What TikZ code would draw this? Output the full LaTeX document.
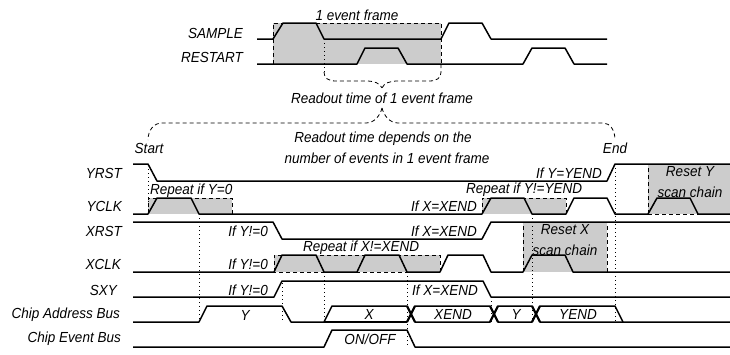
\documentclass[tikz,border=0pt]{standalone}
\usepackage{fontspec}
\setmainfont{Liberation Sans}
\usepackage{xcolor}
\definecolor{frameGray}{HTML}{CCCCCC}
\begin{document}
\begin{tikzpicture}[
    x=1pt, y=-1pt,
    sig/.style={line width=1.5pt, line join=round},
    cross/.style={line width=2.2pt},
    greybox/.style={fill=frameGray, draw=none},
    dashbox/.style={line width=0.8pt, dash pattern=on 4pt off 3pt},
    guide/.style={line width=0.9pt, dash pattern=on 1pt off 3pt},
    txt/.style={font=\fontsize{14.6}{16}\selectfont\itshape, inner sep=0pt, xscale=0.925, transform shape},
    signame/.style={txt, anchor=east},
  ]
    \useasboundingbox (0,0) rectangle (730,354);

    % Grey areas
    \fill[greybox] (273,23) rectangle (441,64);
    \fill[greybox] (148,198) rectangle (232,214);
    \fill[greybox] (482,198) rectangle (566,214);
    \fill[greybox] (648,164) rectangle (730,214);
    \fill[greybox] (274,255) rectangle (440,272);
    \fill[greybox] (523,222) rectangle (607,272);

    % Dashed frames
    \draw[dashbox] (273,64) -- (273,23) -- (441,23) -- (441,64);
    \draw[dashbox] (148,214) -- (148,198) -- (232,198) -- (232,214) -- (199,214);
    \draw[dashbox] (482,214) -- (482,198) -- (566,198) -- (566,214);
    \draw[dashbox] (648,214) -- (648,164);
    \draw[dashbox] (648,214) -- (698,214);
    \draw[dashbox] (274,272) -- (274,255) -- (440,255) -- (440,272) -- (274,272);
    \draw[dashbox] (523,272) -- (523,222);
    \draw[dashbox] (607,272) -- (607,222);

    % Dotted guides
    \draw[guide] (148,165) -- (148,214);
    \draw[guide] (199,214) -- (199,322);
    \draw[guide] (282,283) -- (282,322);
    \draw[guide] (324,272) -- (324,322);
    \draw[guide] (407,272) -- (407,347);
    \draw[guide] (491,297) -- (491,322);
    \draw[guide] (532,214) -- (532,322);
    \draw[guide] (615,164) -- (615,322);

    % Top waves
    \node[signame] (sample) at (243,33) {SAMPLE};
    \node[signame] (restart) at (243,57) {RESTART};
    \draw[sig] (257,39) -- (273,39) -- (283,23) -- (316,23) -- (324,39) -- (441,39) -- (449,23) -- (482,23) -- (491,39) -- (607,39);
    \draw[sig] (257,64) -- (357,64) -- (365,48) -- (398,48) -- (407,64) -- (523,64) -- (532,48) -- (565,48) -- (574,64) -- (607,64);
    \node[txt] (frametxt) at (357,15) {1 event frame};

    % Braces
    \draw[guide] (324,39) -- (324,72);
    \draw[dashbox] (324,72) .. controls (324,78) and (328,81) .. (336,81) -- (366,81) .. controls (374,81) and (380,83) .. (382,88);
    \draw[dashbox] (441,64) -- (441,72) .. controls (441,78) and (437,81) .. (429,81) -- (398,81) .. controls (390,81) and (384,83) .. (382,88);
    \node[txt] (readout) at (382,98) {Readout time of 1 event frame};
    \draw[dashbox] (382,108) .. controls (380,116) and (374,123) .. (366,123) -- (162,123) .. controls (154,123) and (148,130) .. (148,140);
    \draw[dashbox] (382,108) .. controls (384,116) and (390,123) .. (398,123) -- (603,123) .. controls (610,123) and (615,130) .. (615,140);
    \node[txt] (depends) at (383,139) {Readout time depends on the};
    \node[txt] (number) at (387,158) {number of events in 1 event frame};
    \node[txt] (start) at (149,148) {Start};
    \node[txt] (end) at (615,148) {End};

    % Lower waves
    \node[signame] (yrst) at (122,173) {YRST};
    \draw[sig] (133,164) -- (148,164) -- (157,181) -- (607,181) -- (615,164) -- (730,164);
    \node[signame] (yclk) at (122,206) {YCLK};
    \draw[sig] (133,214) -- (148,214) -- (157,198) -- (191,198) -- (199,214) -- (482,214) -- (491,198) -- (524,198) -- (532,214) -- (566,214) -- (574,198) -- (607,198) -- (615,214) -- (648,214) -- (657,198) -- (690,198) -- (698,214) -- (730,214);
    \node[signame] (xrst) at (122,231) {XRST};
    \draw[sig] (133,222) -- (273,222) -- (282,239) -- (482,239) -- (491,222) -- (730,222);
    \node[signame] (xclk) at (121,264) {XCLK};
    \draw[sig] (133,272) -- (274,272) -- (282,255) -- (316,255) -- (324,272) -- (357,272) -- (365,255) -- (399,255) -- (407,272) -- (440,272) -- (448,255) -- (483,255) -- (491,272) -- (523,272) -- (532,255) -- (565,255) -- (573,272) -- (730,272);
    \node[signame] (sxy) at (117,290) {SXY};
    \draw[sig] (133,297) -- (274,297) -- (282,281) -- (483,281) -- (491,297) -- (730,297);
    \node[signame] (addr) at (120,315) {Chip Address Bus};
    \draw[sig] (133,322) -- (199,322) -- (207,306) -- (282,306) -- (291,322) -- (324,322) -- (332,306) -- (407,306) -- (415,322) -- (490,322) -- (498,306) -- (532,306) -- (540,322) -- (623,322);
    \draw[sig] (407,322) -- (415,306) -- (490,306) -- (498,322) -- (532,322) -- (540,306) -- (615,306) -- (623,322) -- (730,322);
    \draw[sig] (324,322) -- (407,322);
    \foreach \xa in {407,490,532} {
      \draw[cross] (\xa,306) -- ({\xa+8},322);
      \draw[cross] (\xa,322) -- ({\xa+8},306);
    }
    \node[signame] (event) at (121,339) {Chip Event Bus};
    \draw[sig] (133,347) -- (324,347) -- (332,330) -- (407,330) -- (415,347) -- (730,347);

    % Wave labels
    \node[txt, anchor=west] (rep1) at (150,191) {Repeat if Y=0};
    \node[txt, anchor=west] (rep2) at (466,190) {Repeat if Y!=YEND};
    \node[txt, anchor=west] (rep3) at (303,248) {Repeat if X!=XEND};
    \node[txt, anchor=east] (ifend) at (602,173) {If Y=YEND};
    \node[txt, anchor=east] (ifx1) at (477,206) {If X=XEND};
    \node[txt, anchor=east] (ifx2) at (477,231) {If X=XEND};
    \node[txt, anchor=east] (ifx3) at (478,290) {If X=XEND};
    \node[txt, anchor=east] (ify1) at (268,231) {If Y!=0};
    \node[txt, anchor=east] (ify2) at (268,264) {If Y!=0};
    \node[txt, anchor=east] (ify3) at (268,290) {If Y!=0};
    \node[txt] (resety) at (690,172) {Reset Y};
    \node[txt] (scany) at (690,192) {scan chain};
    \node[txt] (resetx) at (565,230) {Reset X};
    \node[txt] (scanx) at (565,250) {scan chain};
    \node[txt] (busy) at (245,315) {Y};
    \node[txt] (busx) at (369,314) {X};
    \node[txt] (busxend) at (453,314) {XEND};
    \node[txt] (busy2) at (516,314) {Y};
    \node[txt] (busyend) at (578,314) {YEND};
    \node[txt] (onoff) at (370,339) {ON/OFF};
\end{tikzpicture}
\end{document}
